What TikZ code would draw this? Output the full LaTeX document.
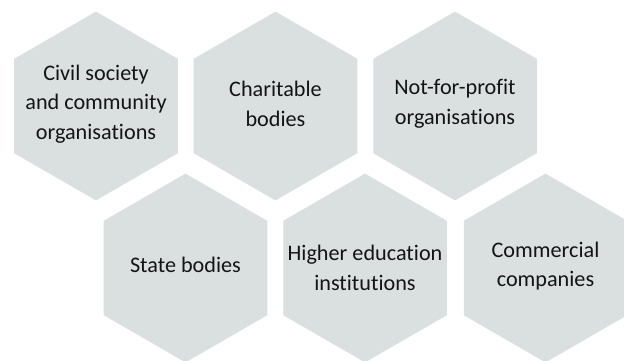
\documentclass[tikz,border=0pt]{standalone}
\usepackage{fontspec}
\setmainfont{Carlito}[RawFeature={-liga}]
\usetikzlibrary{shapes.geometric}
\definecolor{hexfill}{HTML}{DADFE0}
\definecolor{hextext}{HTML}{141414}
\begin{document}
\begin{tikzpicture}[x=1pt,y=-1pt,
  hexa/.style={regular polygon, regular polygon sides=6, shape border rotate=30,
    minimum size=188.8pt, inner sep=0pt, outer sep=0pt, fill=hexfill, draw=none},
  lbl/.style={align=center, text=hextext, inner sep=0pt,
    font=\fontsize{22.2}{29.5}\selectfont}]
\useasboundingbox (0,0) rectangle (624,360);
\fill[white] (0,0) rectangle (624,360);
\node[hexa] (h1) at (96,106) {};
\node[hexa] (h2) at (275.5,106) {};
\node[hexa] (h3) at (455,106) {};
\node[hexa] (h4) at (185.5,268) {};
\node[hexa] (h5) at (365,268) {};
\node[hexa] (h6) at (545.5,268) {};
\node[lbl] (t1) at ([yshift=2pt]h1.center) {Civil society\\and community\\organisations};
\node[lbl] (t2) at ([yshift=2pt]h2.center) {Charitable\\bodies};
\node[lbl] (t3) at ([yshift=2pt]h3.center) {Not-for-profit\\organisations};
\node[lbl] (t4) at ([yshift=3pt]h4.center) {State bodies};
\node[lbl] (t5) at ([yshift=0pt]h5.center) {Higher education\\institutions};
\node[lbl] (t6) at ([yshift=2pt]h6.center) {Commercial\\companies};
\end{tikzpicture}
\end{document}
